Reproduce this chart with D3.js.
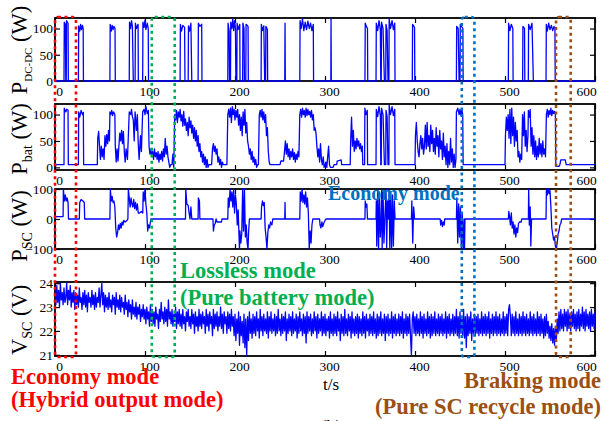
<!DOCTYPE html>
<html><head><meta charset="utf-8">
<script src="https://cdn.jsdelivr.net/npm/d3@7"></script>
<style>body{margin:0;background:#fff}svg{display:block}</style>
</head><body>
<script>
// ---------- DATA ----------
const timeTicks = [0,100,200,300,400,500,600];
const dcTicks = [0,50,100];
const batTicks = [0,50,100];
const scTicks = [-100,0,100];
const vTicks = [21,22,23,24];

// P_DC-DC [t (s), W]
const pDcdc = [[0,0],[10,0],[10.3,112],[11.5,108],[12,0],[12.5,0],[12.8,115],[14.5,110],[14.8,0],
[26,0],[26.3,105],[27.5,95],[28.5,108],[29.5,98],[30.5,106],[31.3,100],[31.6,0],
[61,0],[61.3,108],[62.5,95],[63.5,106],[64.5,98],[65.5,104],[66.7,100],[67,0],
[82.5,0],[82.8,112],[84,100],[85,115],[86,104],[87,0],
[89,0],[89.3,110],[90.5,100],[92.3,108],[92.6,0],
[97.4,0],[97.7,112],[99,102],[100,116],[101,98],[102.5,110],[103.6,100],[103.9,0],
[139,0],[139.3,108],[140.5,95],[142,106],[144,102],[144.4,0],
[148,0],[148.3,105],[149.5,95],[151,110],[152,0],
[159,0],[159.3,110],[161,104],[163,108],[163.3,0],
[192,0],[192.3,110],[193.5,95],[194,0],[195,0],[195.3,112],[196.5,100],[197.5,118],[198.5,96],[199.5,115],[200.5,100],[201,0],[202,0],[202.3,110],[203.5,98],[205.3,108],[205.6,0],
[208.5,0],[208.8,110],[210,100],[210.5,0],[212,0],[212.3,108],[214.5,104],[214.8,0],
[229,0],[229.3,108],[230.5,96],[232,105],[233,0],[234,0],[234.3,104],[236,98],[236.3,0],
[255.3,0],[255.6,110],[255.9,0],
[272,0],[272.3,115],[273.5,100],[275,118],[276.5,96],[278,112],[279.5,98],[281,114],[282.5,100],[284,110],[285.5,96],[287,108],[287.3,0],
[306.5,0],[306.7,120],[307,0],
[344.4,0],[344.7,110],[346,104],[347.2,100],[347.5,0],
[356.7,0],[357,110],[358.5,96],[360,115],[361.5,98],[362,0],[362.5,0],[362.8,112],[364.5,100],[366,0],[367.5,0],[367.8,108],[369,96],[370,0],[371,0],[371.3,118],[372.8,100],[374.5,115],[376,98],[377.5,110],[377.8,0],
[397,0],[397.3,108],[399.5,102],[399.8,0],
[446,0],[446.3,104],[448,100],[449,0],[450,0],[450.3,108],[453.2,100],[453.5,0],
[503.7,0],[504,110],[505.5,96],[507,108],[508.7,100],[509,0],
[519.6,0],[519.9,104],[521.7,100],[522,0],[525.9,0],[526.2,108],[528,98],[530,110],[531.5,0],
[545.6,0],[545.9,108],[547,95],[548.5,110],[550,98],[551.5,106],[553,96],[554.5,104],[555.5,100],[555.8,0],
[600,0]];

// P_bat [t, W]
const pBat = [[0,2],[1,5],[10,5],[10.3,112],[12,105],[13,110],[14.5,108],[14.8,5],
[26,5],[26.3,105],[27.5,95],[29,108],[30.5,100],[31.5,104],[31.8,5],
[47,5],[47.5,55],[48.5,68],[49.5,40],[50.5,15],[51.5,40],[52.5,20],[53.5,35],[54.5,15],[55.5,60],[56.5,40],[57.5,62],[58.5,45],[59.5,70],[60.5,50],
[61,105],[62,100],[63,108],[64,98],[65,105],[66.5,100],[67,40],[68,10],[69,35],[70,12],[71,40],
[72,65],[73,50],[74,70],[75,45],[76,68],[77,30],[78,10],[79,35],[80.5,15],[81.5,60],
[82.5,105],[84,100],[85,110],[86,96],[87,90],[88,50],[89,105],[90.5,70],[91.5,100],[92.5,45],[93.5,15],[95,60],[96,30],
[97.4,105],[99,110],[100,100],[101,115],[102.5,102],[103.7,108],[104.5,40],[105.5,25],[106.5,35],[107.5,20],[108.5,30],[109.5,15],[110.5,35],[111.5,20],[112.5,28],[113.5,15],[114.5,30],[115.5,10],[116.5,25],[117.5,15],[118.5,30],[119.5,12],[120.5,35],[121.5,20],[122.5,55],[123.5,25],[124.5,40],[125.5,20],[126.5,10],[127.5,0],[128.5,5],[130,5],[131,25],[132,0],
[133,100],[134,90],[135,108],[136,85],[137,105],[138,95],[139,110],[140,88],[141,100],[142,78],[143,106],[144,80],[145,92],[146,70],[147,85],[148,60],[149,95],[150,75],[151,88],[152,65],[153,80],[154,55],[155,75],[156,50],[157,70],[158,40],[159,60],[160,30],[161,45],[162,20],[163,30],[164,10],[165,25],[166,5],[167,20],[168,0],[169,15],[170,0],[171,5],
[174,5],[175,35],[176,45],[177,30],[178,40],[179,25],[180,35],[181,10],[182,20],[183,5],[184,15],[185,0],[186,10],[187,5],
[191,5],[192,100],[193,110],[194,95],[195,112],[196,85],[197,115],[198,100],[199,110],[200,90],[201,108],[202,95],[203,110],[204,80],[205,100],[206,70],[207,95],[208,60],[209,105],[210,80],[211,110],[212,65],[213,85],[214,50],[215,40],[216,25],[217,35],[218,15],[219,30],[220,10],[221,20],[222,5],[223,15],[224,0],[225,5],
[226,5],[227,100],[228,108],[229,95],[230,110],[231,90],[232,105],[233,85],[234,100],[235,60],[236,75],[237,30],[238,10],[239,5],
[250,5],[251,12],[254,12],[255,30],[256,50],[257,25],[258,45],[259,20],[260,35],[261,15],[262,30],[263,20],[264,35],[265,15],[266,28],[267,10],[268,25],[269,15],[270,30],[271,20],
[272,100],[273,110],[274,95],[275,112],[276,100],[277,108],[278,95],[279,112],[280,98],[281,110],[282,100],[283,106],[284,95],[285,108],[286,90],[287,100],
[288,70],[289,75],[290,65],[291,40],[292,20],[293,35],[294,10],[295,45],[296,15],[297,5],[298,20],[299,0],[301,10],[302,0],[304,40],[305,5],[306,0],[309,0],[310,5],[313,5],[313.5,12],[318,14],[318.5,5],
[328,5],[328.5,50],[329.5,95],[330.5,40],[331.5,70],[332.5,30],[333.5,50],[334.5,35],[335.5,55],[336.5,40],[337.5,50],[338.5,35],[339.5,45],[340.5,30],[341.5,40],[342,5],[344,5],[344.3,112],[345.5,100],[347,108],[347.3,5],
[356.7,5],[357,110],[358.5,96],[360,115],[361.5,98],[362,5],[362.5,5],[362.8,112],[364.5,100],[366,5],[367.5,5],[367.8,108],[369,96],[370,5],[371,5],[371.3,118],[372.8,100],[374.5,115],[376,98],[377.5,110],[377.8,5],
[400,5],[400.5,60],[401.5,85],[402.5,50],[403.5,30],[404.5,20],[405.5,45],[406.5,60],[407.5,35],[408.5,55],[409.5,25],[410.5,40],[411.5,80],[412.5,35],[413.5,85],[414.5,40],[415.5,60],[416.5,30],[417.5,80],[418.5,45],[419.5,70],[420.5,30],[421.5,55],[422.5,25],[423.5,75],[424.5,40],[425.5,60],[426.5,20],[427.5,70],[428.5,35],[429.5,50],[430.5,15],[431.5,65],[432.5,20],[433.5,40],[434.5,5],[435.5,45],[436.5,0],[437.5,30],[438.5,5],[439.5,55],[440.5,10],[441.5,35],[442.5,0],[443.5,25],[444.5,0],[445.5,15],
[446,105],[447.5,112],[449,100],[450,110],[451,98],[452,110],[453,100],[453.5,5],
[500,5],[500.5,60],[501.5,95],[502.5,70],[503.5,100],[504.5,55],[505.5,110],[506.5,45],[507.5,112],[508.5,60],[509.5,95],[510.5,40],[511.5,85],[512.5,50],[513.5,70],[514.5,20],[515.5,30],[516.5,10],[517.5,25],[518.5,15],[519.5,100],[520.5,60],[521.5,105],[522.5,40],[523.5,70],[524.5,30],[525.5,60],[526,108],[527,95],[528,110],[529,40],[530,75],[531,25],[532,60],[533,20],[534,50],[535,15],[536,40],[537,20],[538,55],[539,25],[540,45],[541,20],[542,50],[543,25],[544,35],[545,20],[546,100],[547,110],[548,95],[549,108],[550,100],[551,112],[552,98],[553,108],[554,102],[555,106],[556,100],[556.5,2],[560,2],[561,5],[562,14],[567,14],[568,5],[600,5]];

// P_SC [t, W]
const pSc = [[0,0],[1,8],[9,8],[9.3,100],[10.5,60],[11.5,80],[12.5,60],[13.5,70],[14.5,55],[15,0],
[27,0],[27.5,55],[29,65],[31,60],[32.5,55],[33,0],
[61,0],[61.5,100],[62.5,60],[63.5,75],[64.5,55],[65.5,60],[66.5,40],[67.5,-30],[68.5,-60],[69.5,-45],[70.5,-20],[71.5,-35],[72.5,-15],[73.5,-30],[74.5,-10],[75.5,-20],[76.5,-5],[78,-10],[80,-5],
[81,0],[81.5,100],[82.5,70],[83.5,40],[84.5,70],[85.5,50],[86.5,40],[87.5,65],[88.5,35],[89.5,55],[90.5,30],[91.5,50],[92.5,20],[94,20],[96,25],[97.5,20],
[98,90],[99,60],[100,100],[101,50],[102,20],[103,-40],[104,-20],[105,-30],[106,-10],[106.5,0],
[145,0],[145.3,100],[146.5,50],[148,45],[149,20],[150,0],[151,40],[152,0],
[159,0],[159.3,70],[160.5,60],[161,0],
[175.5,0],[176,-40],[177,-20],[178,-15],[179,0],[180,-10],[185,-10],[185.5,0],
[192,0],[192.5,70],[193.5,40],[194.5,100],[195.5,60],[196.5,90],[197.5,40],[198.5,100],[199.5,20],[200.5,80],[201.5,50],[202.5,-20],[203.5,30],[204.5,-60],[205,-100],[205.5,-40],[206.5,-80],[207.5,-50],[208.5,100],[209.5,-40],[210.5,100],[211.5,-60],[212.5,-20],[213.5,-80],[214.5,-100],[215,-50],[216,0],
[229,0],[229.5,40],[230.5,60],[231.5,45],[232.5,55],[233.5,-30],[234.5,-60],[235.5,-100],[236.5,-45],[237.5,-20],[238.5,-30],[239.5,-10],[241,-20],[242,0],
[255.3,0],[255.6,55],[255.9,0],
[272,0],[272.5,90],[273.5,60],[274.5,100],[275.5,55],[276.5,80],[277.5,50],[278.5,90],[279.5,40],[280.5,70],[281.5,20],[282.5,-100],[283.5,-40],[284.5,-80],[285.5,-20],[286.5,0],
[294,0],[294.5,-20],[295.5,-30],[296.5,-10],[297.5,-25],[298.5,-15],[300,-5],[301,0],
[344.4,0],[344.7,60],[345.5,40],[346.5,50],[347.2,0],
[356.7,0],[357,60],[357.5,-90],[358.5,100],[359.5,-100],[360.5,80],[361.5,-60],[362.5,0],[363,100],[363.5,-100],[364.5,90],[365.5,-80],[366.5,0],[367.8,100],[368.5,-95],[369.5,60],[370.5,0],[371.3,100],[372,-100],[373,90],[374,-100],[375,80],[376,-90],[377,60],[377.8,0],
[396,0],[396.5,60],[397.5,-80],[398.5,40],[399.5,0],
[428,0],[428.5,-20],[429.5,-5],[430.5,-25],[431.5,-10],[432.5,-20],[433,0],
[446,0],[446.5,70],[447.5,-80],[448.5,50],[449.5,-60],[450.5,40],[451.5,-100],[452.5,20],[453.5,-100],[454.5,0],[455,-100],[455.5,0],
[503.7,0],[504.2,25],[505,10],[506,-20],[507,20],[508,-30],[509,-10],[510,-50],[511,-20],[512,-60],[513,-30],[514,-45],[515,-15],[516,-10],[518,-10],[518.5,0],
[526,0],[526.3,100],[527,-20],[528,40],[528.7,-90],[529.5,0],
[545.6,0],[546,100],[547,80],[548,100],[549,85],[550,95],[551,40],[552,-30],[553,-50],[554,-70],[555,-60],[556,-90],[557,-100],[558,-80],[559,-50],[560,-40],[561,-20],[562,-15],[563,0],[600,0]];

// V_SC sampled every 1 s from t = 0 s
const vscStart = 0, vscStep = 1;
const vsc = [
23.5,23.1,23.9,23.2,23.7,23.0,24.0,23.3,23.6,23.1,
23.8,23.2,23.4,24.0,23.1,23.7,23.3,23.9,23.0,23.6,
23.2,23.7,22.9,23.6,23.1,23.5,23.0,23.8,23.2,23.4,
22.9,23.6,23.1,23.7,23.0,23.5,22.8,23.6,23.2,23.4,
23.0,23.7,23.1,23.5,22.9,23.6,23.0,23.4,23.2,23.8,
23.0,23.5,24.0,23.1,23.6,22.8,23.5,23.0,23.4,22.9,
23.6,23.0,23.3,22.8,23.5,23.1,23.4,22.7,23.6,23.0,
23.3,22.9,23.5,22.8,23.4,23.0,23.2,22.7,23.5,22.9,
23.2,22.6,23.3,22.8,23.1,22.5,23.3,22.7,23.0,22.6,
23.2,22.5,23.0,22.7,23.1,22.4,22.9,22.6,23.1,22.5,
22.9,22.3,23.0,22.5,22.8,22.2,23.1,22.4,22.9,22.3,
22.8,22.2,23.0,22.5,22.7,22.1,22.9,22.4,23.2,22.5,
22.8,22.3,23.0,22.4,22.9,22.2,23.3,22.5,22.8,22.3,
22.9,22.2,22.7,22.4,23.0,22.1,22.8,22.3,22.9,22.2,
22.7,22.1,22.9,22.3,22.6,22.0,22.8,22.4,22.9,22.2,
22.6,22.1,22.9,22.3,22.7,21.9,22.8,22.2,22.6,22.0,
22.9,22.2,22.7,22.1,22.8,22.3,22.6,21.9,22.9,22.2,
22.7,22.0,22.8,22.3,22.6,21.8,22.9,22.1,22.7,22.2,
22.8,22.0,22.6,22.2,23.0,22.1,22.7,21.9,22.8,22.3,
22.6,21.9,22.8,22.1,22.7,22.0,22.9,22.2,22.6,21.8,
22.7,21.6,22.5,21.9,22.8,21.4,22.6,21.8,22.4,21.5,
22.7,21.3,22.5,21.0,22.6,21.6,22.8,21.9,22.5,21.7,
22.7,21.9,22.6,21.8,22.8,22.0,22.5,21.7,22.9,22.0,
22.6,21.8,22.7,22.0,22.5,21.9,22.8,21.7,22.6,22.0,
22.8,21.9,22.5,22.0,22.7,21.8,22.6,21.9,22.9,22.0,
22.5,21.8,22.7,21.9,22.6,22.0,22.8,21.6,22.5,21.9,
22.7,22.0,22.6,21.8,22.8,21.9,22.5,22.0,22.7,21.7,
22.6,21.9,22.8,22.0,22.5,21.8,22.7,21.9,22.6,21.5,
22.8,21.9,22.6,22.0,22.7,21.8,22.5,21.9,22.8,22.0,
22.6,21.7,22.7,21.9,22.5,22.0,22.8,21.8,22.6,21.9,
22.7,21.8,22.5,22.0,22.6,21.7,22.8,21.9,22.5,21.8,
22.7,21.9,22.6,21.8,22.8,22.0,22.5,21.6,22.7,21.9,
22.6,21.8,22.9,21.9,22.5,21.8,22.7,22.0,22.6,21.7,
22.8,21.9,22.5,21.8,22.6,21.9,22.7,21.7,22.6,21.9,
22.5,21.8,22.8,21.9,22.6,21.7,22.7,22.0,22.5,21.8,
22.7,21.9,22.6,21.8,22.8,21.9,22.5,21.7,22.7,21.8,
22.6,21.9,22.8,21.8,22.5,21.9,22.7,21.6,22.6,21.9,
22.7,21.8,22.5,21.9,22.8,21.7,22.6,21.9,22.7,21.8,
22.5,21.9,22.7,21.8,22.6,21.9,22.8,21.7,22.5,21.9,
22.7,21.8,22.6,21.9,22.7,21.8,21.0,22.5,22.8,21.9,
22.6,21.8,22.7,21.9,22.5,21.8,22.8,21.9,22.6,21.7,
22.7,21.9,22.5,21.8,22.8,21.9,22.6,21.7,22.7,21.8,
22.6,21.9,22.8,21.8,22.5,21.9,22.7,21.8,22.6,21.9,
22.7,21.8,22.5,21.9,22.8,21.7,22.6,21.9,22.7,21.8,
22.5,21.9,22.7,21.8,22.6,21.9,22.9,21.8,22.6,21.7,
22.8,21.9,22.5,21.8,22.9,21.7,22.6,21.3,22.7,21.8,
22.6,21.9,22.8,21.6,22.5,21.9,22.7,21.8,22.6,21.9,
22.7,21.8,22.5,21.9,22.8,21.8,22.6,21.9,22.7,21.8,
22.6,21.9,22.8,21.7,22.5,21.9,22.7,21.8,22.6,21.9,
22.8,21.8,22.6,21.9,22.7,21.8,22.5,21.9,22.8,21.8,
22.6,21.9,22.7,21.8,22.9,23.1,22.6,21.8,22.7,21.9,
22.6,21.8,22.8,21.9,22.5,21.8,22.7,21.9,22.6,21.8,
22.8,21.9,22.6,21.8,22.7,21.9,22.5,21.8,22.8,21.9,
22.6,21.8,22.7,21.9,22.5,21.8,22.8,21.9,22.6,21.8,
22.7,21.9,22.5,21.7,22.6,21.8,22.7,21.9,22.4,21.7,
22.2,21.6,22.3,21.5,22.1,21.4,22.2,21.6,22.5,21.9,
22.8,22.0,22.9,22.1,22.7,22.0,22.9,22.2,22.8,22.0,
22.9,22.1,22.7,22.0,22.8,22.2,22.9,22.1,22.7,22.0,
22.8,22.1,22.9,22.0,22.7,22.2,23.0,22.1,22.8,22.0,
22.9,22.2,22.7,22.1,22.8,22.0,22.9,22.2,22.7,22.1,
22.8];

// mode windows (s)
const modeStart = [0, 107.5, 452, 556.7];
const modeEnd   = [23.3, 133, 466, 573];

// ---------- DRAW ----------
const W = 602, H = 421;
const FONT = "Liberation Serif, Times New Roman, serif";
const svg = d3.select("body").append("svg").attr("width", W).attr("height", H);
svg.append("rect").attr("width", W).attr("height", H).attr("fill", "#fff");

const x = d3.scaleLinear().domain([0, 600]).range([55, 595]);

const vscPts = vsc.map((v, i) => [vscStart + i * vscStep, v]);

const panels = [
  {id: "dc",  top: 18,  bottom: 81,  dom: [0, 120],        ticks: dcTicks,  data: pDcdc,  lab: ["P", "DC-DC", " (W)"], subSize: 11, cy: 50},
  {id: "bat", top: 104, bottom: 170, dom: [-5, 120],       ticks: batTicks, data: pBat,   lab: ["P", "bat", " (W)"],   subSize: 14, cy: 139},
  {id: "sc",  top: 189, bottom: 249, dom: [-100, 100],     ticks: scTicks,  data: pSc,    lab: ["P", "SC", " (W)"],    subSize: 14, cy: 226},
  {id: "v",   top: 282, bottom: 356, dom: [20.95, 24.05],  ticks: vTicks,   data: vscPts, lab: ["V", "SC", " (V)"],    subSize: 14, cy: 320}
];

const defs = svg.append("defs");

panels.forEach((p, pi) => {
  const y = d3.scaleLinear().domain(p.dom).range([p.bottom, p.top]);
  const g = svg.append("g");

  g.append("rect").attr("x", 55).attr("y", p.top).attr("width", 540).attr("height", p.bottom - p.top)
    .attr("fill", "none").attr("stroke", "#000").attr("stroke-width", 1.8);

  const xb = g.append("g").attr("transform", `translate(0,${p.bottom})`)
    .call(d3.axisBottom(x).tickValues(timeTicks).tickSize(-5).tickPadding(5).tickFormat(d3.format("d")));
  g.append("g").attr("transform", `translate(0,${p.top})`)
    .call(d3.axisTop(x).tickValues(timeTicks).tickSize(-5).tickFormat(""));
  g.append("g").attr("transform", `translate(55,0)`)
    .call(d3.axisLeft(y).tickValues(p.ticks).tickSize(-5).tickPadding(2).tickFormat(d3.format("d")));
  g.append("g").attr("transform", `translate(595,0)`)
    .call(d3.axisRight(y).tickValues(p.ticks).tickSize(-5).tickFormat(""));
  g.selectAll(".domain").remove();
  g.selectAll(".tick line").attr("stroke", "#000").attr("stroke-width", 1.2);
  g.selectAll(".tick text").attr("font-family", FONT).attr("font-size", 13.5).attr("fill", "#000");
  xb.selectAll(".tick text").attr("dx", (d) => d === 600 ? -9 : 4);

  defs.append("clipPath").attr("id", "clip" + pi).append("rect")
    .attr("x", 55).attr("y", p.top - 1.5).attr("width", 541).attr("height", p.bottom - p.top + 3);

  const line = d3.line().x(d => x(d[0])).y(d => y(d[1]));
  g.append("path").datum(p.data).attr("clip-path", `url(#clip${pi})`)
    .attr("d", line).attr("fill", "none").attr("stroke", "#0000ff")
    .attr("stroke-width", p.id === "v" ? 1.3 : 1.3).attr("stroke-linejoin", "round");

  const t = svg.append("text").attr("transform", `translate(27,${p.cy}) rotate(-90)`)
    .attr("text-anchor", "middle").attr("font-family", FONT).attr("font-size", 22.5).attr("fill", "#000");
  t.append("tspan").text(p.lab[0]);
  t.append("tspan").attr("font-size", p.subSize).attr("dy", 5).text(p.lab[1]);
  t.append("tspan").attr("dy", -5).text(p.lab[2]);
});

// mode boxes
const boxColors = ["#ff0000", "#00b050", "#0070c0", "#9c4f14"];
modeStart.forEach((s, i) => {
  svg.append("rect").attr("x", x(s)).attr("y", 17).attr("width", x(modeEnd[i]) - x(s)).attr("height", 340)
    .attr("rx", 3).attr("fill", "none").attr("stroke", boxColors[i]).attr("stroke-width", 2.6)
    .attr("stroke-dasharray", "3,3.5");
});

function ann(txt, xx, yy, col, size, anchor) {
  svg.append("text").attr("x", xx).attr("y", yy).attr("fill", col).attr("font-family", FONT)
    .attr("font-weight", "bold").attr("font-size", size).attr("text-anchor", anchor || "start").text(txt);
}
ann("Economy mode", 11, 384, "#ff0000", 22.5);
ann("(Hybrid output mode)", 11, 407, "#ff0000", 22.5);
ann("Lossless mode", 180, 278, "#00b050", 22.5);
ann("(Pure battery mode)", 180, 305, "#00b050", 22.5);
ann("Economy mode", 328, 200, "#0070c0", 20);
ann("Braking mode", 601, 388, "#9c4f14", 22.5, "end");
ann("(Pure SC recycle mode)", 601, 414, "#9c4f14", 22.5, "end");

svg.append("text").attr("x", 331).attr("y", 390).attr("text-anchor", "middle")
  .attr("font-family", FONT).attr("font-size", 17).attr("fill", "#000").text("t/s");
svg.append("text").attr("x", 331).attr("y", 433).attr("text-anchor", "middle")
  .attr("font-family", FONT).attr("font-size", 18).attr("fill", "#000").text("(b)");
</script>
</body></html>
